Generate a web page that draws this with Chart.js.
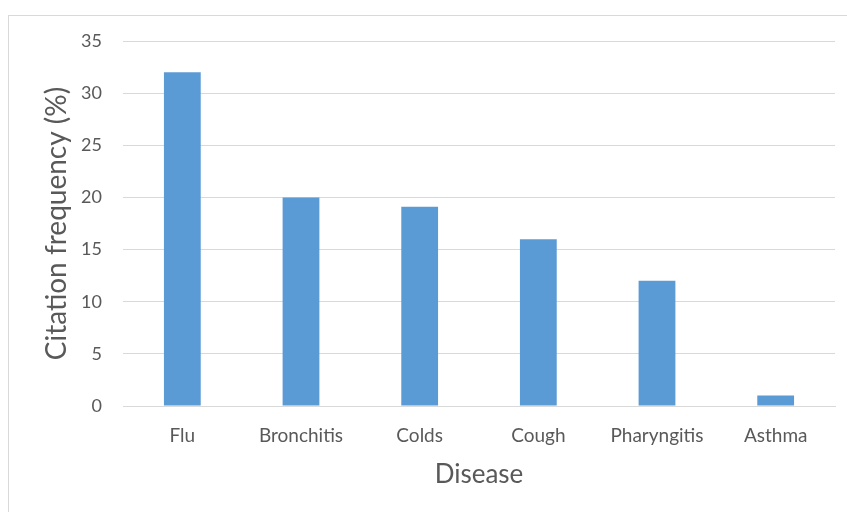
<!DOCTYPE html>
<html>
<head>
<meta charset="utf-8">
<script src="https://cdn.jsdelivr.net/npm/chart.js@4/dist/chart.umd.min.js"></script>
<style>
  html, body { margin: 0; padding: 0; background: #ffffff; }
  #wrap { position: relative; width: 847px; height: 512px; overflow: hidden; }
  canvas { display: block; }
</style>
</head>
<body>
<div id="wrap"><canvas id="chart" width="847" height="512"></canvas></div>
<script>
// Diseases and the share of citations for each
const diseases = ['Flu', 'Bronchitis', 'Colds', 'Cough', 'Pharyngitis', 'Asthma'];
const citationFrequency = [32, 20, 19.1, 16, 12, 1];
const yTicks = [0, 5, 10, 15, 20, 25, 30, 35];
const xTitle = 'Disease';
const yTitle = 'Citation frequency (%)';

const TEXT = '#595959';
const GRID = '#d9d9d9';
const FONT = 'Lato, "Open Sans", sans-serif';

// Light frame around the whole chart, open at the right and bottom
const framePlugin = {
  id: 'frame',
  beforeDraw(chart) {
    const ctx = chart.ctx;
    ctx.save();
    ctx.fillStyle = '#ffffff';
    ctx.fillRect(0, 0, chart.width, chart.height);
    ctx.strokeStyle = GRID;
    ctx.lineWidth = 1;
    ctx.strokeRect(8.5, 15.5, chart.width + 20, chart.height + 20);
    ctx.restore();
  }
};

new Chart(document.getElementById('chart'), {
  type: 'bar',
  data: {
    labels: diseases,
    datasets: [{
      data: citationFrequency,
      backgroundColor: '#5b9bd5',
      borderWidth: 0,
      barPercentage: 0.31,
      categoryPercentage: 1
    }]
  },
  options: {
    responsive: false,
    animation: false,
    devicePixelRatio: 1,
    layout: { padding: { left: 40, right: 12, top: 41, bottom: 22 } },
    plugins: {
      legend: { display: false },
      tooltip: { enabled: false },
      title: { display: false }
    },
    scales: {
      x: {
        grid: { display: false, drawTicks: false },
        border: { display: true, color: GRID, width: 1 },
        ticks: {
          color: TEXT,
          font: { family: FONT, size: 19 },
          padding: 18,
          maxRotation: 0,
          autoSkip: false
        },
        title: {
          display: true,
          text: xTitle,
          color: TEXT,
          font: { family: FONT, size: 26 },
          padding: { top: 0, bottom: 0 }
        },
        afterFit(scale) { scale.height = 84; }
      },
      y: {
        min: 0,
        max: 35,
        afterBuildTicks(scale) {
          scale.ticks = yTicks.map(v => ({ value: v }));
        },
        grid: { color: GRID, lineWidth: 1, drawTicks: false },
        border: { display: false },
        ticks: {
          color: TEXT,
          font: { family: FONT, size: 18 },
          padding: 21
        },
        title: {
          display: true,
          text: yTitle,
          color: TEXT,
          font: { family: FONT, size: 28 },
          padding: { top: 0, bottom: 0 }
        },
        afterFit(scale) { scale.width = 83; }
      }
    }
  },
  plugins: [framePlugin]
});
</script>
</body>
</html>
